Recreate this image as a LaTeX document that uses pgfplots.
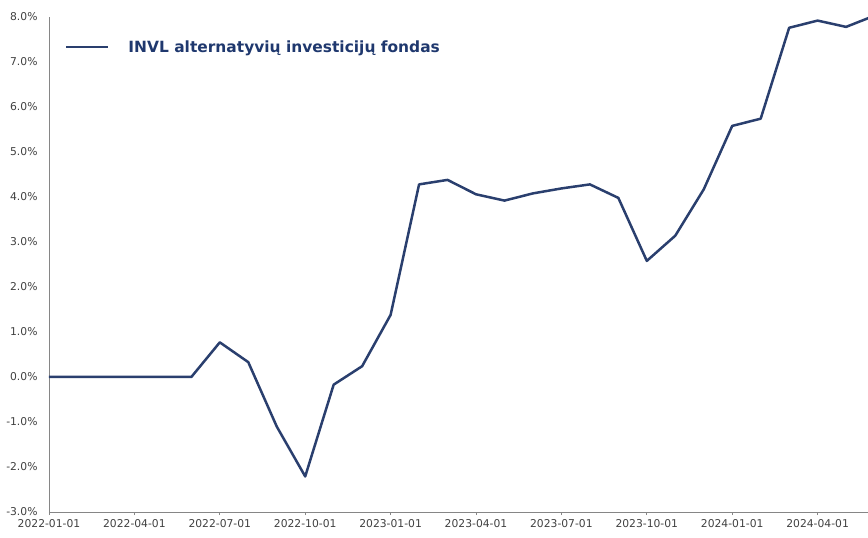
\documentclass[border=0pt]{standalone}
\usepackage{pgfplots}
\pgfplotsset{compat=1.18}
\usepackage{fontspec}
\setmainfont{DejaVu Sans}
\definecolor{navy}{RGB}{42,63,110}
\definecolor{legtext}{RGB}{31,56,110}
\definecolor{axgray}{RGB}{134,134,134}
\definecolor{ticktext}{RGB}{64,64,64}
\begin{document}
\begin{tikzpicture}
\path[use as bounding box] (-49bp,-26bp) rectangle (819bp,512bp);
\begin{axis}[
  at={(0,0)}, anchor=south west,
  scale only axis, width=819bp, height=495bp,
  xmin=0, xmax=28.77, ymin=-3, ymax=8,
  axis x line*=bottom, axis y line*=left,
  axis line style={axgray, line width=0.8bp},
  xtick={0,3,6,9,12,15,18,21,24,27},
  xticklabels={2022-01-01,2022-04-01,2022-07-01,2022-10-01,2023-01-01,2023-04-01,2023-07-01,2023-10-01,2024-01-01,2024-04-01},
  ytick={-3,-2,-1,0,1,2,3,4,5,6,7,8},
  yticklabel={\pgfmathprintnumber[fixed,fixed zerofill,precision=1]{\tick}\%},
  /pgf/number format/assume math mode=true,
  ticklabel style={font=\fontsize{10.8}{12}\selectfont, text=ticktext},
  yticklabel style={xshift=-8bp},
  xticklabel style={yshift=-1bp},
  xtick align=outside, major tick length=3bp,
  xtick style={axgray, line width=0.8bp},
  ytick style={draw=none},
  clip=true,
  legend style={at={(axis description cs:0.0195,0.939)}, anchor=west, draw=none, fill=none,
    inner sep=0pt, outer sep=0pt, nodes={inner sep=0pt},
    column sep=19bp,
    font=\fontsize{15.5}{18}\selectfont\bfseries, text=legtext},
  legend image code/.code={\draw[#1] (0bp,0bp) -- (42bp,0bp);},
]
\addplot[navy, line width=2.5bp, line join=round] coordinates {
(0,0) (1,0) (2,0) (3,0) (4,0) (5,0)
(6,0.77) (7,0.33) (8,-1.10) (9,-2.21) (10,-0.17) (11,0.24)
(12,1.38) (13,4.28) (14,4.38) (15,4.06) (16,3.92) (17,4.08)
(18,4.19) (19,4.28) (20,3.98) (21,2.58) (22,3.14) (23,4.17)
(24,5.58) (25,5.74) (26,7.76) (27,7.92) (28,7.78) (29,8.03)
};
\addlegendentry{INVL alternatyvių investicijų fondas}
\end{axis}
\end{tikzpicture}
\end{document}
